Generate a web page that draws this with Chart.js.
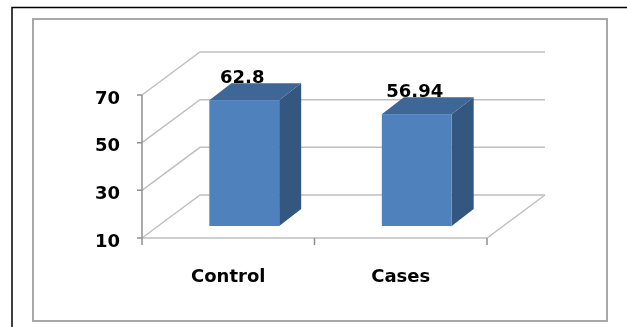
<!DOCTYPE html>
<html>
<head>
<meta charset="utf-8">
<script src="https://cdn.jsdelivr.net/npm/chart.js@4/dist/chart.umd.min.js"></script>
<style>
	html, body { margin: 0; padding: 0; background: #fff; }
	canvas { display: block; }
</style>
</head>
<body>
<canvas id="canvas" width="627" height="327"></canvas>
<script>
const groups = ["Control", "Cases"];
const means = [62.8, 56.94];
const yTicks = [10, 30, 50, 70];

// depth of floor / walls, offset of the bars into the box, and bar depth (px)
const WALL_DX = 58, WALL_DY = 43;
const BAR_SHIFT_X = 16, BAR_SHIFT_Y = 12;
const BAR_DX = 22, BAR_DY = 17;

const labelFont = { family: "DejaVu Sans", size: 18, weight: "bold" };

const frame = {
	id: "frame",
	beforeDraw(chart) {
		const ctx = chart.ctx;
		ctx.save();
		ctx.fillStyle = "#fff";
		ctx.fillRect(0, 0, chart.width, chart.height);
		// outer black border (top and left only)
		ctx.strokeStyle = "#000";
		ctx.lineWidth = 1.5;
		ctx.beginPath();
		ctx.moveTo(12, chart.height);
		ctx.lineTo(12, 7.5);
		ctx.lineTo(chart.width, 7.5);
		ctx.stroke();
		// inner grey border
		ctx.strokeStyle = "#a8a8a8";
		ctx.lineWidth = 2;
		ctx.strokeRect(33, 19, 574, 302);
		ctx.restore();
	},
};

const walls = {
	id: "walls",
	beforeDatasetsDraw(chart) {
		const { ctx, chartArea: a, scales: { y } } = chart;
		const y0 = y.getPixelForValue(yTicks[0]);
		const yTop = y.getPixelForValue(yTicks[yTicks.length - 1]);
		ctx.save();
		ctx.lineWidth = 1.5;
		ctx.strokeStyle = "#c0c0c0";
		yTicks.forEach((v) => {
			const py = y.getPixelForValue(v);
			ctx.beginPath();
			ctx.moveTo(a.left, py);
			ctx.lineTo(a.left + WALL_DX, py - WALL_DY);
			ctx.lineTo(a.right + WALL_DX, py - WALL_DY);
			ctx.stroke();
		});
		// floor front and right edges
		ctx.beginPath();
		ctx.moveTo(a.left, y0);
		ctx.lineTo(a.right, y0);
		ctx.lineTo(a.right + WALL_DX, y0 - WALL_DY);
		ctx.stroke();
		// value axis and tick marks
		ctx.strokeStyle = "#909090";
		ctx.beginPath();
		ctx.moveTo(a.left, yTop);
		ctx.lineTo(a.left, y0);
		yTicks.forEach((v) => {
			const py = y.getPixelForValue(v);
			ctx.moveTo(a.left - 5, py);
			ctx.lineTo(a.left, py);
		});
		const step = (a.right - a.left) / groups.length;
		for (let i = 0; i <= groups.length; i++) {
			const px = a.left + step * i;
			ctx.moveTo(px, y0);
			ctx.lineTo(px, y0 + 7);
		}
		ctx.stroke();
		ctx.restore();
	},
};

const boxes = {
	id: "boxes",
	afterDatasetsDraw(chart) {
		const ctx = chart.ctx;
		const meta = chart.getDatasetMeta(0);
		ctx.save();
		meta.data.forEach((bar, i) => {
			const { x, y, base, width } = bar.getProps(["x", "y", "base", "width"], true);
			const l = x - width / 2 + BAR_SHIFT_X;
			const r = x + width / 2 + BAR_SHIFT_X;
			const t = y - BAR_SHIFT_Y;
			const b = base - BAR_SHIFT_Y;

			// side face
			ctx.fillStyle = "#34577f";
			ctx.beginPath();
			ctx.moveTo(r, t);
			ctx.lineTo(r + BAR_DX, t - BAR_DY);
			ctx.lineTo(r + BAR_DX, b - BAR_DY);
			ctx.lineTo(r, b);
			ctx.closePath();
			ctx.fill();

			// top face
			ctx.fillStyle = "#3e6696";
			ctx.beginPath();
			ctx.moveTo(l, t);
			ctx.lineTo(l + BAR_DX, t - BAR_DY);
			ctx.lineTo(r + BAR_DX, t - BAR_DY);
			ctx.lineTo(r, t);
			ctx.closePath();
			ctx.fill();

			// front face
			ctx.fillStyle = "#4f81bd";
			ctx.fillRect(l, t, r - l, b - t);

			// value label
			ctx.fillStyle = "#000";
			ctx.font = "bold 18px 'DejaVu Sans'";
			ctx.textAlign = "center";
			ctx.textBaseline = "alphabetic";
			ctx.fillText(String(means[i]), (l + r) / 2 - 2, t - BAR_DY);
		});
		ctx.restore();
	},
};

new Chart(document.getElementById("canvas"), {
	type: "bar",
	data: {
		labels: groups,
		datasets: [
			{
				data: means,
				base: yTicks[0],
				backgroundColor: "rgba(0,0,0,0)",
				borderWidth: 0,
				barPercentage: 0.405,
				categoryPercentage: 1,
			},
		],
	},
	options: {
		responsive: false,
		animation: false,
		layout: { padding: { top: 95, right: 140, left: 0, bottom: 0 } },
		plugins: { legend: { display: false }, tooltip: { enabled: false } },
		scales: {
			x: {
				grid: { display: false, drawTicks: false },
				border: { display: false },
				ticks: { color: "#000", font: labelFont, padding: 29 },
				afterFit(scale) { scale.height = 89; },
			},
			y: {
				min: 10,
				max: 70,
				grid: { display: false, drawTicks: false },
				border: { display: false },
				ticks: { stepSize: 20, color: "#000", font: labelFont, padding: 22, labelOffset: 4 },
				afterFit(scale) { scale.width = 142; },
			},
		},
	},
	plugins: [frame, walls, boxes],
});
</script>
</body>
</html>
